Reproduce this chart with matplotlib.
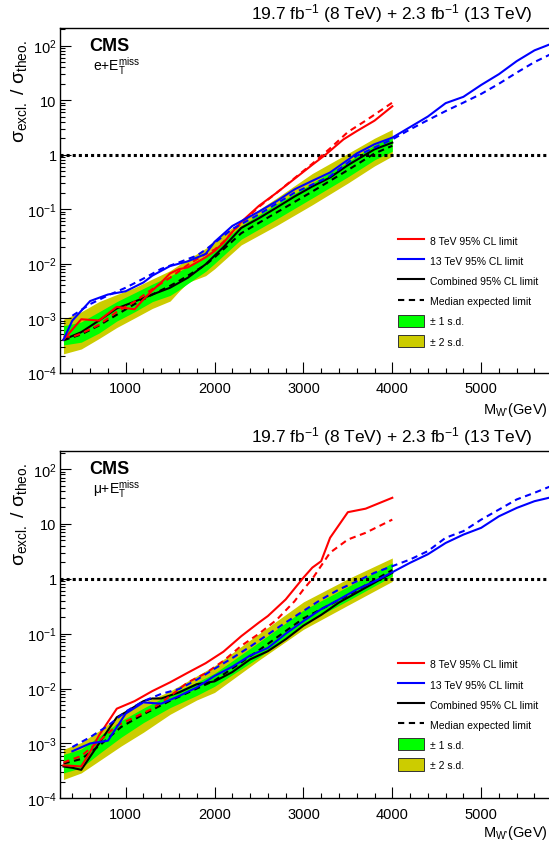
import numpy as np
import matplotlib
matplotlib.use('Agg')
import matplotlib.pyplot as plt
from matplotlib.ticker import FixedLocator, FixedFormatter, NullFormatter
from matplotlib.lines import Line2D
from matplotlib.patches import Patch

plt.rcParams['font.family'] = ['Liberation Sans', 'DejaVu Sans']
plt.rcParams['mathtext.fontset'] = 'custom'
plt.rcParams['mathtext.rm'] = 'Liberation Sans'
plt.rcParams['mathtext.it'] = 'Liberation Sans:italic'
plt.rcParams['mathtext.bf'] = 'Liberation Sans:bold'

# ---------------- electron channel (top) ----------------
e_band_mass = [300, 500, 700, 900, 1100, 1300, 1500, 1600, 1700, 1900, 2000, 2300, 2700, 3100, 3500, 3800, 4000]
e_median = [3.9e-4, 5.0e-4, 7.3e-4, 1.15e-3, 1.8e-3, 2.7e-3, 3.9e-3, 4.8e-3, 6.0e-3, 9.5e-3, 0.013, 0.036, 0.087, 0.21, 0.52, 1.05, 1.45]
e_g_lo = [3.2e-4, 3.6e-4, 5.3e-4, 8.8e-4, 1.3e-3, 2.0e-3, 2.6e-3, 3.3e-3, 4.3e-3, 7.2e-3, 0.010, 0.028, 0.066, 0.16, 0.39, 0.80, 1.15]
e_g_hi = [7.2e-4, 8.5e-4, 1.3e-3, 2.0e-3, 2.9e-3, 4.2e-3, 5.9e-3, 7.2e-3, 8.8e-3, 0.014, 0.019, 0.050, 0.125, 0.30, 0.74, 1.5, 2.1]
e_y_lo = [2.2e-4, 2.7e-4, 4.2e-4, 6.7e-4, 1.0e-3, 1.5e-3, 2.05e-3, 3.1e-3, 4.5e-3, 6.0e-3, 8.0e-3, 0.022, 0.050, 0.12, 0.30, 0.62, 0.94]
e_y_hi = [9.5e-4, 1.3e-3, 2.0e-3, 2.7e-3, 3.6e-3, 5.2e-3, 7.4e-3, 9.5e-3, 0.012, 0.019, 0.027, 0.060, 0.16, 0.45, 1.05, 2.0, 2.9]

e_obs8_mass = [300, 500, 700, 900, 1100, 1200, 1300, 1400, 1500, 1600, 1700, 1800, 1900, 2000, 2100, 2200, 2300, 2500, 2700, 2900, 3100, 3250, 3450, 3600, 3800, 4000]
e_obs8 = [4e-4, 9.5e-4, 9e-4, 1.6e-3, 1.45e-3, 2.2e-3, 3.2e-3, 4.5e-3, 6.6e-3, 7.9e-3, 8.5e-3, 0.0105, 0.013, 0.017, 0.024, 0.038, 0.058, 0.115, 0.20, 0.36, 0.65, 1.0, 1.9, 2.7, 4.2, 7.7]
e_exp8_mass = [300, 400, 500, 700, 900, 1100, 1300, 1500, 1700, 1900, 2000, 2100, 2200, 2300, 2500, 2700, 2900, 3100, 3300, 3500, 3700, 4000]
e_exp8 = [4.6e-4, 4.5e-4, 5.2e-4, 7.5e-4, 1.3e-3, 2.0e-3, 3.4e-3, 5.5e-3, 9.5e-3, 0.015, 0.018, 0.025, 0.038, 0.055, 0.11, 0.20, 0.37, 0.68, 1.3, 2.6, 4.2, 9.0]
e_obs13_mass = [300, 400, 600, 800, 1000, 1200, 1300, 1500, 1700, 1900, 2000, 2100, 2200, 2300, 2500, 2700, 2900, 3100, 3300, 3500, 3600, 3800, 4000, 4200, 4400, 4600, 4800, 5000, 5200, 5400, 5600, 5800]
e_obs13 = [4e-4, 9e-4, 2.05e-3, 2.7e-3, 3.1e-3, 4.5e-3, 6.0e-3, 9.0e-3, 0.011, 0.015, 0.025, 0.035, 0.049, 0.060, 0.090, 0.14, 0.23, 0.33, 0.47, 0.80, 1.05, 1.55, 2.05, 3.2, 5.0, 8.8, 11.5, 19, 30, 52, 82, 110]
e_exp13_mass = [400, 600, 800, 1000, 1200, 1400, 1600, 1800, 1900, 2100, 2200, 2500, 2900, 3300, 3600, 4000, 4200, 4400, 4600, 4800, 5000, 5200, 5400, 5600, 5800]
e_exp13 = [1.1e-3, 1.8e-3, 2.6e-3, 3.6e-3, 5.3e-3, 8.0e-3, 0.0105, 0.014, 0.018, 0.032, 0.043, 0.080, 0.20, 0.40, 0.95, 1.9, 2.9, 4.3, 6.3, 9.0, 13, 20, 32, 50, 72]
e_comb_mass = [300, 500, 700, 900, 1100, 1300, 1500, 1700, 1900, 2100, 2200, 2300, 2500, 2700, 2900, 3100, 3300, 3500, 3600, 3800, 4000]
e_comb = [4e-4, 5.5e-4, 9e-4, 1.5e-3, 2.0e-3, 2.7e-3, 3.6e-3, 5.5e-3, 9.7e-3, 0.020, 0.030, 0.045, 0.068, 0.107, 0.17, 0.26, 0.38, 0.64, 0.80, 1.25, 1.66]

# ---------------- muon channel (bottom) ----------------
m_band_mass = [300, 500, 700, 950, 1200, 1500, 1800, 2000, 2500, 3000, 3500, 4000]
m_median = [4.3e-4, 5.2e-4, 9.0e-4, 2.0e-3, 3.4e-3, 6.0e-3, 0.010, 0.014, 0.050, 0.19, 0.50, 1.45]
m_g_lo = [2.9e-4, 3.6e-4, 6.5e-4, 1.3e-3, 2.4e-3, 4.5e-3, 7.5e-3, 0.011, 0.037, 0.15, 0.40, 1.12]
m_g_hi = [6.3e-4, 7.9e-4, 1.35e-3, 2.6e-3, 4.4e-3, 7.9e-3, 0.013, 0.019, 0.070, 0.27, 0.72, 1.95]
m_y_lo = [2.2e-4, 2.9e-4, 4.8e-4, 9.0e-4, 1.6e-3, 3.4e-3, 6.2e-3, 8.5e-3, 0.033, 0.12, 0.33, 0.90]
m_y_hi = [7.8e-4, 1.04e-3, 1.7e-3, 3.4e-3, 5.5e-3, 9.0e-3, 0.017, 0.026, 0.10, 0.38, 1.0, 2.4]

m_obs8_mass = [300, 500, 600, 700, 900, 1100, 1300, 1500, 1700, 1900, 2100, 2300, 2500, 2600, 2800, 3000, 3100, 3200, 3300, 3500, 3700, 4000]
m_obs8 = [4e-4, 3.8e-4, 7e-4, 1.4e-3, 4.3e-3, 5.9e-3, 9e-3, 0.013, 0.0195, 0.029, 0.047, 0.09, 0.16, 0.21, 0.42, 1.05, 1.6, 2.1, 5.6, 16.4, 19, 30]
m_exp8_mass = [300, 500, 700, 900, 1100, 1300, 1500, 1700, 1900, 2100, 2300, 2500, 2700, 2900, 3000, 3100, 3300, 3500, 3700, 4000]
m_exp8 = [4.5e-4, 5.9e-4, 1.1e-3, 2.1e-3, 3.0e-3, 4.3e-3, 7.3e-3, 0.013, 0.019, 0.032, 0.06, 0.10, 0.18, 0.39, 0.64, 1.0, 3.0, 5.2, 6.9, 12]
m_obs13_mass = [400, 600, 800, 1000, 1200, 1400, 1600, 1800, 2000, 2200, 2400, 2600, 2800, 3000, 3200, 3400, 3600, 3800, 4000, 4200, 4400, 4600, 4800, 5000, 5200, 5400, 5600, 5800]
m_obs13 = [7.2e-4, 1.0e-3, 1.12e-3, 3.5e-3, 5.6e-3, 5.3e-3, 7.3e-3, 0.0105, 0.017, 0.025, 0.040, 0.055, 0.10, 0.17, 0.28, 0.42, 0.64, 0.90, 1.32, 1.96, 2.8, 4.5, 6.4, 8.5, 13.8, 19.6, 26, 31]
m_exp13_mass = [400, 600, 800, 1000, 1200, 1400, 1600, 1800, 2000, 2200, 2400, 2600, 2800, 3000, 3200, 3400, 3600, 3800, 4000, 4200, 4400, 4600, 4800, 5000, 5200, 5400, 5600, 5800]
m_exp13 = [8.6e-4, 1.3e-3, 2.1e-3, 3.8e-3, 5.9e-3, 8.0e-3, 0.0098, 0.0145, 0.023, 0.036, 0.058, 0.097, 0.16, 0.26, 0.42, 0.64, 0.90, 1.29, 1.7, 2.25, 3.2, 5.6, 7.4, 12, 18.3, 28, 37, 50]
m_comb_mass = [300, 400, 500, 700, 900, 1000, 1200, 1300, 1400, 1600, 1800, 2000, 2200, 2400, 2600, 2800, 3000, 3200, 3400, 3600, 3800, 4000]
m_comb = [3.8e-4, 3.6e-4, 3.3e-4, 1.0e-3, 3.0e-3, 3.7e-3, 5.9e-3, 6.6e-3, 6.6e-3, 8.5e-3, 0.012, 0.0135, 0.020, 0.034, 0.048, 0.079, 0.14, 0.22, 0.37, 0.56, 0.85, 1.29]

title_text = '19.7 fb$^{-1}$ (8 TeV) + 2.3 fb$^{-1}$ (13 TeV)'
legend_labels = ['8 TeV 95% CL limit', '13 TeV 95% CL limit', 'Combined 95% CL limit',
                 'Median expected limit', '\u00b1 1 s.d.', '\u00b1 2 s.d.']
ytick_vals = [1e-4, 1e-3, 1e-2, 1e-1, 1, 10, 100]
ytick_labels = ['$10^{-4}$', '$10^{-3}$', '$10^{-2}$', '$10^{-1}$', '1', '10', '$10^{2}$']
xtick_vals = [1000, 2000, 3000, 4000, 5000]

W, H = 549, 845
GREEN = '#00ff00'
YELLOW = '#cccc00'
RED = '#ff0000'
BLUE = '#0000ff'
DASH = (0, (3.0, 2.2))

fig = plt.figure(figsize=(W / 100, H / 100), dpi=100)


def ax_rect(left, top, right, bottom):
    return [left / W, 1 - bottom / H, (right - left) / W, (bottom - top) / H]


def draw_panel(rect, d, channel_label, title_y, text_off):
    ax = fig.add_axes(rect)
    ax.fill_between(d['band_mass'], d['y_lo'], d['y_hi'], color=YELLOW, lw=0, zorder=1)
    ax.fill_between(d['band_mass'], d['g_lo'], d['g_hi'], color=GREEN, lw=0, zorder=2)
    ax.axhline(1.0, color='k', lw=2.2, ls=(0, (1, 1)), zorder=3)
    ax.plot(d['band_mass'], d['median'], color='k', lw=1.5, ls=DASH, zorder=4)
    ax.plot(d['comb_mass'], d['comb'], color='k', lw=1.5, zorder=5)
    ax.plot(d['exp8_mass'], d['exp8'], color=RED, lw=1.5, ls=DASH, zorder=6)
    ax.plot(d['obs8_mass'], d['obs8'], color=RED, lw=1.5, zorder=7)
    ax.plot(d['exp13_mass'], d['exp13'], color=BLUE, lw=1.5, ls=DASH, zorder=8)
    ax.plot(d['obs13_mass'], d['obs13'], color=BLUE, lw=1.5, zorder=9)

    ax.set_yscale('log')
    ax.set_xlim(261, 5797)
    ax.set_ylim(1e-4, 211)
    ax.yaxis.set_major_locator(FixedLocator(ytick_vals))
    ax.yaxis.set_major_formatter(FixedFormatter(ytick_labels))
    minors = [m * 10.0 ** k for k in range(-4, 3) for m in range(2, 10)]
    ax.yaxis.set_minor_locator(FixedLocator(minors))
    ax.yaxis.set_minor_formatter(NullFormatter())
    ax.xaxis.set_major_locator(FixedLocator(xtick_vals))
    ax.xaxis.set_minor_locator(FixedLocator(list(range(400, 5800, 200))))
    ax.tick_params(which='both', direction='in', top=False, right=False, width=0.8, labelsize=10.5)
    ax.tick_params(which='major', length=7.7)
    ax.tick_params(which='minor', length=3.8)
    ax.tick_params(axis='y', which='both', pad=2.5)
    ax.tick_params(axis='x', which='both', pad=6)
    for s in ax.spines.values():
        s.set_linewidth(1.0)

    handles = [Line2D([], [], color=RED, lw=1.5),
               Line2D([], [], color=BLUE, lw=1.5),
               Line2D([], [], color='k', lw=1.5),
               Line2D([], [], color='k', lw=1.5, ls=DASH),
               Patch(facecolor=GREEN, edgecolor='#333333', lw=0.7),
               Patch(facecolor=YELLOW, edgecolor='#333333', lw=0.7)]
    ax.legend(handles, legend_labels, loc='upper left',
              bbox_to_anchor=(398 / W, 1 - (text_off + 235.5) / H), bbox_transform=fig.transFigure,
              frameon=False, fontsize=7.5, handlelength=2.5, handleheight=1.45,
              handletextpad=0.55, labelspacing=0.74, borderpad=0, borderaxespad=0)

    # texts
    fig.text(532 / W, 1 - title_y / H, title_text, ha='right', va='center', fontsize=12.5)
    fig.text(89 / W, 1 - (text_off + 46.5) / H, 'CMS', ha='left', va='center', fontsize=13, fontweight='bold')
    fig.text(93 / W, 1 - (text_off + 70.7) / H, channel_label, ha='left', va='baseline', fontsize=10)
    fig.text(19 / W, 1 - (text_off + 40) / H, '\u03c3$_{\\mathrm{excl.}}$ / \u03c3$_{\\mathrm{theo.}}$',
             rotation=90, ha='center', va='top', fontsize=14)
    fig.text(548 / W, 1 - (text_off + 410) / H, "M$_{\\mathrm{W\u2019}}$(GeV)", ha='right', va='center', fontsize=10.5)
    return ax


d_e = dict(band_mass=e_band_mass, median=e_median, g_lo=e_g_lo, g_hi=e_g_hi, y_lo=e_y_lo, y_hi=e_y_hi,
           obs8_mass=e_obs8_mass, obs8=e_obs8, exp8_mass=e_exp8_mass, exp8=e_exp8,
           obs13_mass=e_obs13_mass, obs13=e_obs13, exp13_mass=e_exp13_mass, exp13=e_exp13,
           comb_mass=e_comb_mass, comb=e_comb)
d_m = dict(band_mass=m_band_mass, median=m_median, g_lo=m_g_lo, g_hi=m_g_hi, y_lo=m_y_lo, y_hi=m_y_hi,
           obs8_mass=m_obs8_mass, obs8=m_obs8, exp8_mass=m_exp8_mass, exp8=m_exp8,
           obs13_mass=m_obs13_mass, obs13=m_obs13, exp13_mass=m_exp13_mass, exp13=m_exp13,
           comb_mass=m_comb_mass, comb=m_comb)

draw_panel(ax_rect(60, 29, 552, 373.5), d_e, 'e+E$_{\\mathrm{T}}^{\\mathrm{miss}}$', 14, 0)
draw_panel(ax_rect(60, 452.3, 552, 799.3), d_m, '\u03bc+E$_{\\mathrm{T}}^{\\mathrm{miss}}$', 436.5, 423.3)

fig.savefig('out.png', dpi=100)
